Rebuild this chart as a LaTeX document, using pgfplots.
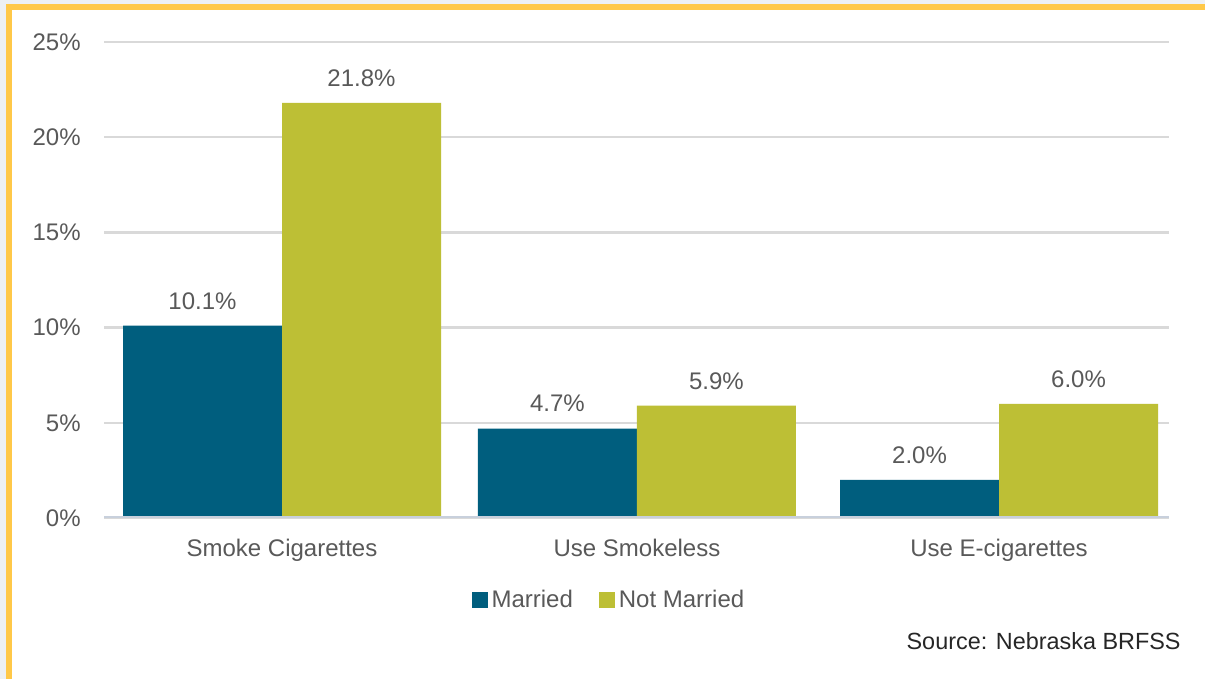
\documentclass[border=0pt]{standalone}
\usepackage{pgfplots}
\pgfplotsset{compat=1.18}
\usepackage{fontspec}
\setmainfont{Liberation Sans}
\definecolor{married}{RGB}{0,94,126}
\definecolor{notmarried}{RGB}{189,191,53}
\definecolor{frameyellow}{RGB}{255,200,72}
\definecolor{outergrey}{RGB}{237,240,243}
\definecolor{gridgrey}{RGB}{217,217,217}
\definecolor{axisline}{RGB}{200,208,220}
\definecolor{labelgrey}{RGB}{89,89,89}
\definecolor{srcgrey}{RGB}{38,38,38}
\begin{document}
\begin{tikzpicture}
\fill[outergrey] (0,0) rectangle (602.5bp,339.5bp);
\fill[frameyellow] (3bp,0) rectangle (602.5bp,337.5bp);
\fill[white] (6bp,0) rectangle (602.5bp,334.5bp);
\begin{axis}[
  at={(52bp,80.5bp)}, anchor=south west,
  scale only axis, width=532.5bp, height=238bp,
  ybar=0pt, bar width=0.4435,
  xmin=-0.4965, xmax=2.474, ymin=0, ymax=25,
  xtick={0,0.99,2},
  xticklabels={Smoke Cigarettes, Use Smokeless, Use E-cigarettes},
  ytick={0,5,10,15,20,25},
  yticklabel={\pgfmathprintnumber{\tick}\%},
  /pgf/number format/assume math mode=true,
  major tick length=0pt,
  axis line style={draw=none},
  ymajorgrids, major grid style={draw=gridgrey, line width=1.2bp},
  tick label style={font=\fontsize{12bp}{14bp}\selectfont, text=labelgrey, inner sep=0pt},
  yticklabel style={anchor=east, xshift=-11.5bp},
  xticklabel style={anchor=north, yshift=-10.5bp},
  nodes near coords={\pgfmathprintnumber[fixed,fixed zerofill,precision=1]{\pgfplotspointmeta}\%},
  every node near coord/.append style={text=labelgrey, inner sep=0pt, yshift=8bp, font=\fontsize{12bp}{14bp}\selectfont},
  legend style={at={(0.475,-0.1723)}, anchor=center, draw=none, fill=none,
    legend columns=2, font=\fontsize{12bp}{14bp}\selectfont, text=labelgrey,
    /tikz/every even column/.append style={column sep=11bp}},
  legend image code/.code={\fill[#1] (0bp,-4bp) rectangle (8bp,4bp);},
]
\addplot[fill=married, draw=none] coordinates {(0,10.1) (0.99,4.7) (2,2.0)};
\addplot[fill=notmarried, draw=none] coordinates {(0,21.8) (0.99,5.9) (2,6.0)};
\legend{Married, Not Married}
\draw[axisline, line width=1.5bp] (rel axis cs:0,0) -- (rel axis cs:1,0);
\end{axis}
\node[anchor=east, text=srcgrey, inner sep=0pt, font=\fontsize{11.7bp}{14bp}\selectfont] at (590.5bp,19bp) {Source: Nebraska BRFSS};
\pgfresetboundingbox
\useasboundingbox (0,0) rectangle (602.5bp,339.5bp);
\end{tikzpicture}
\end{document}
